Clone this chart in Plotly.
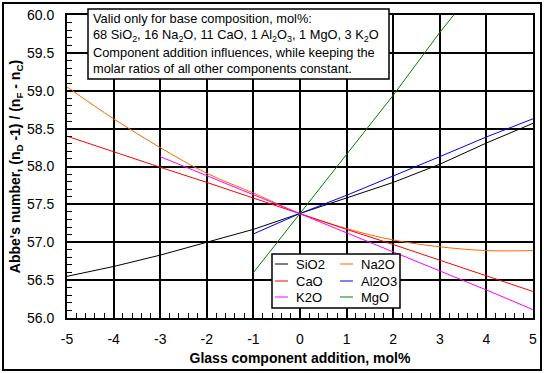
import plotly.graph_objects as go

# ---- data ----
x_full = [-5, -4, -3, -2, -1, 0, 1, 2, 3, 4, 5]
sio2 = [56.55, 56.68, 56.83, 57.00, 57.17, 57.38, 57.58, 57.79, 58.03, 58.31, 58.57]
na2o = [59.05, 58.63, 58.25, 57.91, 57.65, 57.38, 57.18, 57.03, 56.94, 56.89, 56.89]
cao = [58.40, 58.19, 57.99, 57.79, 57.58, 57.38, 57.17, 56.97, 56.76, 56.56, 56.35]
x_al2o3 = [-1, 0, 1, 2, 3, 4, 5]
al2o3 = [57.11, 57.38, 57.62, 57.87, 58.13, 58.39, 58.63]
x_k2o = [-3, -2, -1, 0, 1, 2, 3, 4, 5]
k2o = [58.13, 57.88, 57.63, 57.38, 57.13, 56.88, 56.62, 56.37, 56.11]
x_mgo = [-1, 0, 1, 2, 3, 3.3]
mgo = [56.60, 57.38, 58.15, 58.94, 59.77, 60.0]

series = [
    ("SiO2", x_full, sio2, "#000000", "linear"),
    ("Na2O", x_full, na2o, "#FF6600", "spline"),
    ("CaO", x_full, cao, "#FF0000", "linear"),
    ("Al2O3", x_al2o3, al2o3, "#0000FF", "linear"),
    ("K2O", x_k2o, k2o, "#FF00FF", "linear"),
    ("MgO", x_mgo, mgo, "#008000", "linear"),
]

x_ticks = [-5, -4, -3, -2, -1, 0, 1, 2, 3, 4, 5]
y_ticks = [56.0, 56.5, 57.0, 57.5, 58.0, 58.5, 59.0, 59.5, 60.0]

info_lines = [
    "Valid only for base composition, mol%:",
    "68 SiO<sub>2</sub>, 16 Na<sub>2</sub>O, 11 CaO, 1 Al<sub>2</sub>O<sub>3</sub>, 1 MgO, 3 K<sub>2</sub>O",
    "Component addition influences, while keeping the",
    "molar ratios of all other components constant.",
]

FONT = "Liberation Sans, Arial, sans-serif"
W, H = 544, 373
ML, MR, MT, MB = 67, 11, 15, 55
PW = W - ML - MR
PH = H - MT - MB


def px_x(px):
    return (px - ML) / PW


def px_y(py):
    return (H - MB - py) / PH


fig = go.Figure()
for name, xs, ys, color, shape in series:
    fig.add_trace(go.Scatter(x=xs, y=ys, mode="lines", name=name,
                             line=dict(color=color, width=1, shape=shape),
                             showlegend=False))

axis_common = dict(
    automargin=False,
    showline=True, linecolor="black", linewidth=2, mirror=True,
    showgrid=True, gridcolor="black", gridwidth=2,
    ticks="inside", ticklen=5, tickcolor="black", tickwidth=1,
    zeroline=False,
    tickfont=dict(family=FONT, size=14, color="black"),
)

fig.update_layout(
    template="none",
    width=W, height=H,
    margin=dict(l=ML, r=MR, t=MT, b=MB, pad=0),
    paper_bgcolor="white", plot_bgcolor="white",
    font=dict(family=FONT, color="black"),
    showlegend=False,
    xaxis=dict(range=[-5, 5], tickvals=x_ticks,
               ticktext=[str(v) for v in x_ticks],
               minor=dict(dtick=0.2, ticks="inside", ticklen=5,
                          tickcolor="black", showgrid=False),
               ticklabelstandoff=7,
               title=dict(text="<b>Glass component addition, mol%</b>",
                          font=dict(family=FONT, size=14), standoff=7),
               **axis_common),
    yaxis=dict(range=[56, 60], tickvals=y_ticks,
               ticktext=[f"{v:.1f}" for v in y_ticks],
               minor=dict(dtick=0.1, ticks="inside", ticklen=5,
                          tickcolor="black", showgrid=False),
               ticklabelstandoff=8,
               title=dict(text="<b>Abbe's number, (n<sub>D</sub> -1) / (n<sub>F</sub> - n<sub>C</sub>)</b>",
                          font=dict(family=FONT, size=14), standoff=3),
               **axis_common),
)

# outer frame
fig.add_shape(type="rect", xref="paper", yref="paper",
              x0=px_x(3), x1=px_x(541), y0=px_y(370), y1=px_y(3),
              line=dict(color="black", width=2), layer="below")

# info box
fig.add_shape(type="rect", xref="paper", yref="paper",
              x0=px_x(88), x1=px_x(389), y0=px_y(79), y1=px_y(9),
              line=dict(color="black", width=1.5), fillcolor="white",
              layer="above")
for i, (line_text, cy) in enumerate(zip(info_lines, [18, 35, 52, 68])):
    fig.add_annotation(xref="paper", yref="paper", x=px_x(91), y=px_y(cy),
                       xanchor="left", yanchor="middle", showarrow=False,
                       align="left", text=line_text,
                       font=dict(family=FONT, size=12.8, color="black"))

# legend (two columns, row-major)
fig.add_shape(type="rect", xref="paper", yref="paper",
              x0=px_x(272), x1=px_x(400), y0=px_y(308), y1=px_y(254),
              line=dict(color="black", width=1.5), fillcolor="white",
              layer="above")
row_y = [264, 281, 297]
col_x = [275, 340]
for i, (name, xs, ys, color, shape) in enumerate(series):
    r, c = divmod(i, 2)
    yy = px_y(row_y[r])
    fig.add_shape(type="line", xref="paper", yref="paper",
                  x0=px_x(col_x[c]), x1=px_x(col_x[c] + 13), y0=yy, y1=yy,
                  line=dict(color=color, width=1), layer="above")
    fig.add_annotation(xref="paper", yref="paper", x=px_x(col_x[c] + 19), y=yy,
                       xanchor="left", yanchor="middle", showarrow=False,
                       text=name, font=dict(family=FONT, size=13, color="black"))

fig.write_html("out.html", config={"displayModeBar": False},
               post_script="document.body.style.margin='0';document.body.style.padding='0';")
